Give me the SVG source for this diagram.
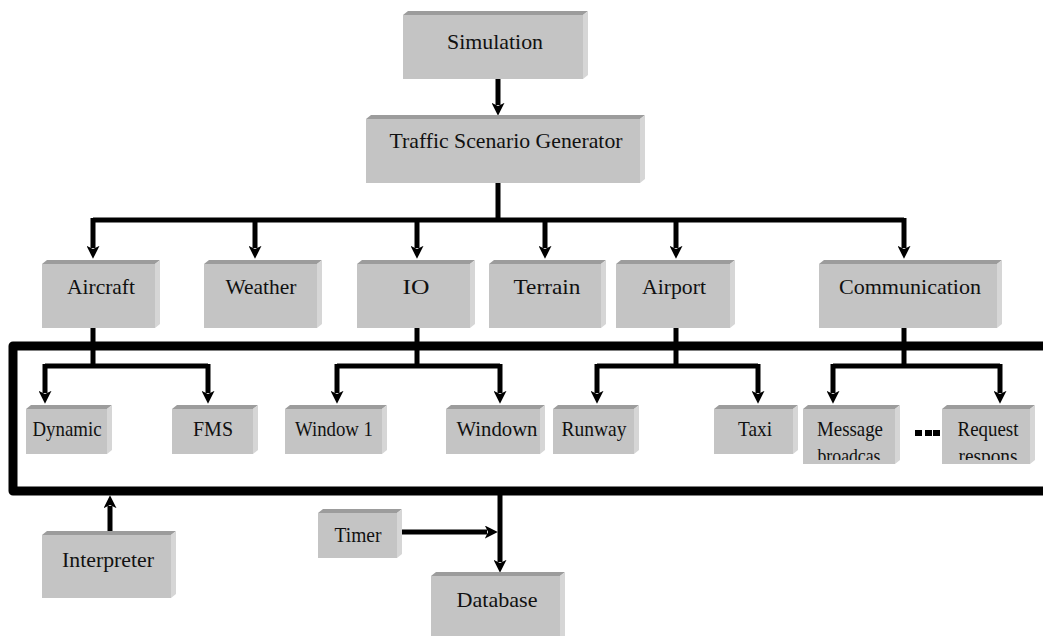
<svg xmlns="http://www.w3.org/2000/svg" width="1043" height="636" viewBox="0 0 1043 636">
<style>
.front{fill:#c4c4c4}
.top{fill:#9c9c9c}
.side{fill:#d6d6d6}
.lbl{font-family:"Liberation Serif","Times New Roman",serif;font-size:22px;fill:#111;text-anchor:middle}
.ln{fill:none;stroke:#000;stroke-width:5}
.frame{fill:none;stroke:#000;stroke-width:9;stroke-linejoin:round}
</style>
<defs>
<marker id="ah" markerUnits="userSpaceOnUse" viewBox="0 0 12 12" markerWidth="13" markerHeight="13" refX="2" refY="6" orient="auto">
<path d="M0,0 L12,6 L0,12 L3,6 z" fill="#000"/>
</marker>
<clipPath id="cMsg"><rect x="803" y="409" width="92" height="51"/></clipPath>
<clipPath id="cReq"><rect x="942" y="409" width="88" height="51"/></clipPath>
</defs>
<rect width="1043" height="636" fill="#fff"/>

<g id="connectors">
<path class="ln" d="M498,79 V105" marker-end="url(#ah)"/>
<path class="ln" d="M498,183 V220 M93,220 H904"/>
<path class="ln" d="M93,218 V248" marker-end="url(#ah)"/>
<path class="ln" d="M255,220 V248" marker-end="url(#ah)"/>
<path class="ln" d="M417,220 V248" marker-end="url(#ah)"/>
<path class="ln" d="M545,220 V248" marker-end="url(#ah)"/>
<path class="ln" d="M676,220 V248" marker-end="url(#ah)"/>
<path class="ln" d="M904,218 V248" marker-end="url(#ah)"/>
<path class="frame" d="M1050,346 H13 V491 H1050"/>
<path class="ln" d="M93,328 V366 M45,366 H208 M417,328 V366 M337,366 H500 M676,328 V366 M597,366 H758 M904,328 V366 M833,366 H1000"/>
<path class="ln" d="M45,364 V393" marker-end="url(#ah)"/>
<path class="ln" d="M208,364 V393" marker-end="url(#ah)"/>
<path class="ln" d="M337,364 V393" marker-end="url(#ah)"/>
<path class="ln" d="M500,364 V393" marker-end="url(#ah)"/>
<path class="ln" d="M597,364 V393" marker-end="url(#ah)"/>
<path class="ln" d="M758,364 V393" marker-end="url(#ah)"/>
<path class="ln" d="M833,364 V393" marker-end="url(#ah)"/>
<path class="ln" d="M1000,364 V393" marker-end="url(#ah)"/>
<path class="ln" d="M110,531 V506" marker-end="url(#ah)"/>
<path class="ln" d="M402,532 H487" marker-end="url(#ah)"/>
<path class="ln" d="M500,491 V562" marker-end="url(#ah)"/>
<g fill="#000"><rect x="915" y="430" width="7" height="6"/><rect x="925" y="430" width="7" height="6"/><rect x="933" y="430" width="7" height="6"/></g>
</g>

<g id="simulation">
<polygon class="top" points="403,15 408,11 588,11 583,15"/><polygon class="side" points="583,15 588,11 588,75 583,79"/><rect class="front" x="403" y="15" width="180" height="64"/>
<text class="lbl" x="495" y="49" textLength="96" lengthAdjust="spacingAndGlyphs">Simulation</text>
</g>
<g id="tsg">
<polygon class="top" points="366,119 371,115 645,115 640,119"/><polygon class="side" points="640,119 645,115 645,179 640,183"/><rect class="front" x="366" y="119" width="274" height="64"/>
<text class="lbl" x="506" y="148" textLength="233" lengthAdjust="spacingAndGlyphs">Traffic Scenario Generator</text>
</g>
<g id="aircraft">
<polygon class="top" points="42,264 47,260 160,260 155,264"/><polygon class="side" points="155,264 160,260 160,324 155,328"/><rect class="front" x="42" y="264" width="113" height="64"/>
<text class="lbl" x="101" y="294" textLength="68" lengthAdjust="spacingAndGlyphs">Aircraft</text>
</g>
<g id="weather">
<polygon class="top" points="204,264 209,260 322,260 317,264"/><polygon class="side" points="317,264 322,260 322,324 317,328"/><rect class="front" x="204" y="264" width="113" height="64"/>
<text class="lbl" x="261" y="294" textLength="71" lengthAdjust="spacingAndGlyphs">Weather</text>
</g>
<g id="io">
<polygon class="top" points="357,264 362,260 475,260 470,264"/><polygon class="side" points="470,264 475,260 475,324 470,328"/><rect class="front" x="357" y="264" width="113" height="64"/>
<text class="lbl" x="416" y="294" textLength="27" lengthAdjust="spacingAndGlyphs">IO</text>
</g>
<g id="terrain">
<polygon class="top" points="489,264 494,260 606,260 601,264"/><polygon class="side" points="601,264 606,260 606,324 601,328"/><rect class="front" x="489" y="264" width="112" height="64"/>
<text class="lbl" x="547" y="294" textLength="67" lengthAdjust="spacingAndGlyphs">Terrain</text>
</g>
<g id="airport">
<polygon class="top" points="616,264 621,260 735,260 730,264"/><polygon class="side" points="730,264 735,260 735,324 730,328"/><rect class="front" x="616" y="264" width="114" height="64"/>
<text class="lbl" x="674" y="294" textLength="64" lengthAdjust="spacingAndGlyphs">Airport</text>
</g>
<g id="communication">
<polygon class="top" points="819,264 824,260 1002,260 997,264"/><polygon class="side" points="997,264 1002,260 1002,324 997,328"/><rect class="front" x="819" y="264" width="178" height="64"/>
<text class="lbl" x="910" y="294" textLength="142" lengthAdjust="spacingAndGlyphs">Communication</text>
</g>
<g id="dynamic">
<polygon class="top" points="26,409 31,405 112,405 107,409"/><polygon class="side" points="107,409 112,405 112,450 107,454"/><rect class="front" x="26" y="409" width="81" height="45"/>
<text class="lbl" x="67" y="436" textLength="69" lengthAdjust="spacingAndGlyphs">Dynamic</text>
</g>
<g id="fms">
<polygon class="top" points="172,409 177,405 258,405 253,409"/><polygon class="side" points="253,409 258,405 258,450 253,454"/><rect class="front" x="172" y="409" width="81" height="45"/>
<text class="lbl" x="213" y="436" textLength="40" lengthAdjust="spacingAndGlyphs">FMS</text>
</g>
<g id="window1">
<polygon class="top" points="285,409 290,405 387,405 382,409"/><polygon class="side" points="382,409 387,405 387,450 382,454"/><rect class="front" x="285" y="409" width="97" height="45"/>
<text class="lbl" x="334" y="436" textLength="78" lengthAdjust="spacingAndGlyphs">Window 1</text>
</g>
<g id="windown">
<polygon class="top" points="446,409 451,405 545,405 540,409"/><polygon class="side" points="540,409 545,405 545,450 540,454"/><rect class="front" x="446" y="409" width="94" height="45"/>
<text class="lbl" x="497" y="436" textLength="81" lengthAdjust="spacingAndGlyphs">Windown</text>
</g>
<g id="runway">
<polygon class="top" points="553,409 558,405 639,405 634,409"/><polygon class="side" points="634,409 639,405 639,450 634,454"/><rect class="front" x="553" y="409" width="81" height="45"/>
<text class="lbl" x="594" y="436" textLength="65" lengthAdjust="spacingAndGlyphs">Runway</text>
</g>
<g id="taxi">
<polygon class="top" points="714,409 719,405 798,405 793,409"/><polygon class="side" points="793,409 798,405 798,450 793,454"/><rect class="front" x="714" y="409" width="79" height="45"/>
<text class="lbl" x="755" y="436" textLength="34" lengthAdjust="spacingAndGlyphs">Taxi</text>
</g>
<g id="message">
<polygon class="top" points="803,409 808,405 900,405 895,409"/><polygon class="side" points="895,409 900,405 900,460 895,464"/><rect class="front" x="803" y="409" width="92" height="55"/>
<text class="lbl" x="850" y="436" textLength="66" lengthAdjust="spacingAndGlyphs">Message</text>
<text class="lbl" x="849" y="463" textLength="63" lengthAdjust="spacingAndGlyphs" clip-path="url(#cMsg)">broadcas</text>
</g>
<g id="request">
<polygon class="top" points="942,409 947,405 1035,405 1030,409"/><polygon class="side" points="1030,409 1035,405 1035,460 1030,464"/><rect class="front" x="942" y="409" width="88" height="55"/>
<text class="lbl" x="988" y="436" textLength="61" lengthAdjust="spacingAndGlyphs">Request</text>
<text class="lbl" x="988" y="463" textLength="59" lengthAdjust="spacingAndGlyphs" clip-path="url(#cReq)">respons</text>
</g>
<g id="interpreter">
<polygon class="top" points="42,535 47,531 176,531 171,535"/><polygon class="side" points="171,535 176,531 176,594 171,598"/><rect class="front" x="42" y="535" width="129" height="63"/>
<text class="lbl" x="108" y="567" textLength="92" lengthAdjust="spacingAndGlyphs">Interpreter</text>
</g>
<g id="timer">
<polygon class="top" points="318,513 323,509 402,509 397,513"/><polygon class="side" points="397,513 402,509 402,554 397,558"/><rect class="front" x="318" y="513" width="79" height="45"/>
<text class="lbl" x="358" y="542" textLength="47" lengthAdjust="spacingAndGlyphs">Timer</text>
</g>
<g id="database">
<polygon class="top" points="431,576 436,572 565,572 560,576"/><polygon class="side" points="560,576 565,572 565,640 560,644"/><rect class="front" x="431" y="576" width="129" height="70"/>
<text class="lbl" x="497" y="607" textLength="81" lengthAdjust="spacingAndGlyphs">Database</text>
</g>
</svg>
